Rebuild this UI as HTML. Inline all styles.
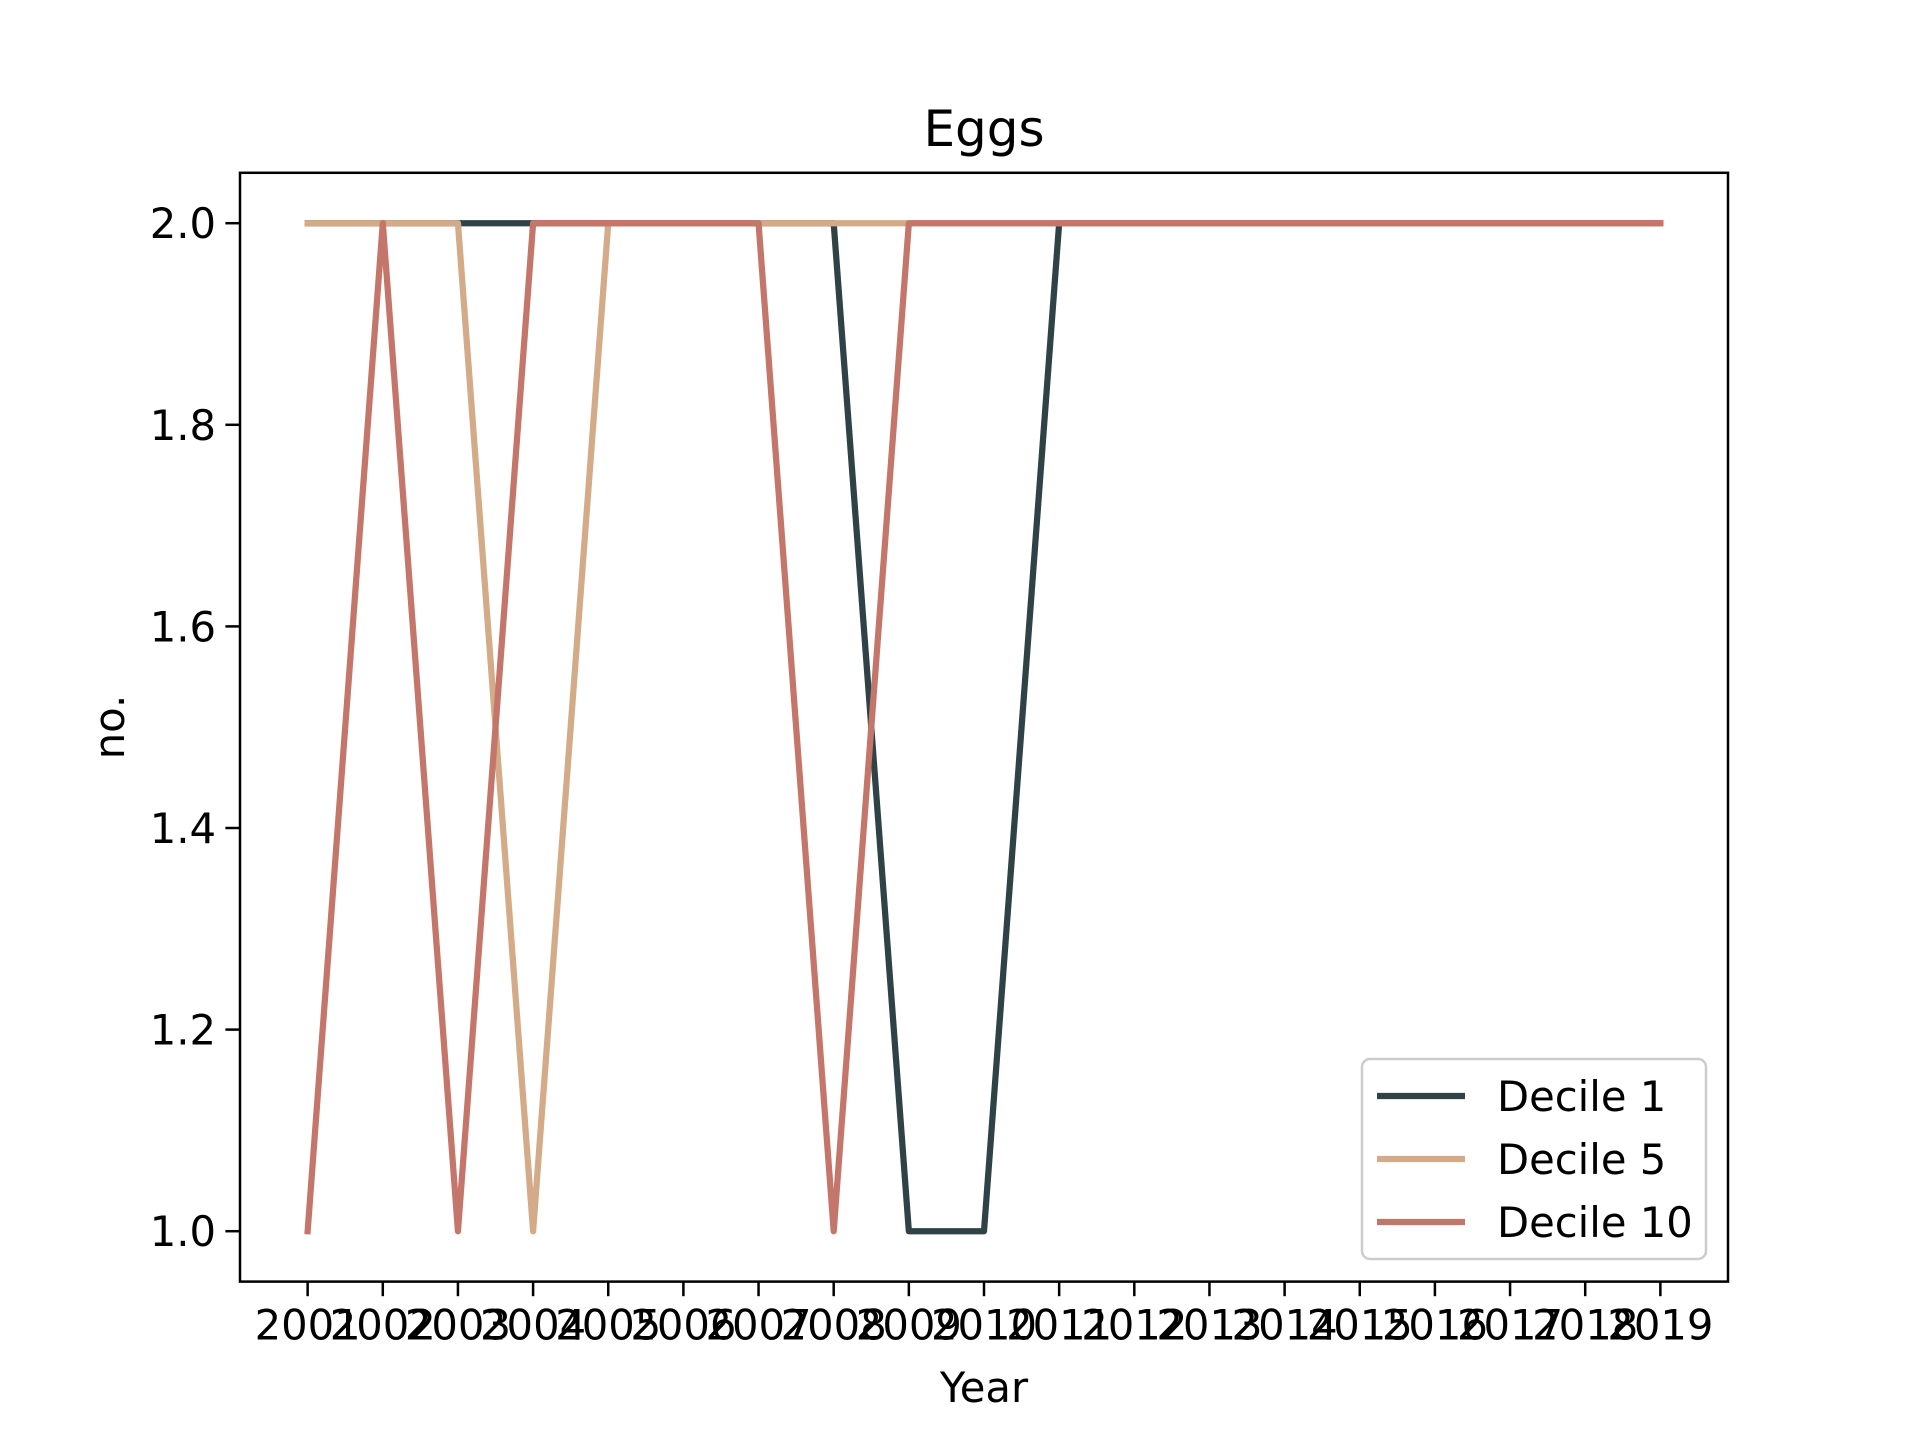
<!DOCTYPE html>
<html><head><meta charset="utf-8"><style>
html,body{margin:0;padding:0;background:#fff}
svg{display:block;font-family:"DejaVu Sans","Liberation Sans",sans-serif}
</style></head><body>
<svg id="chart" width="1920" height="1440" viewBox="0 0 1920 1440" xmlns="http://www.w3.org/2000/svg">
<rect width="1920" height="1440" fill="#fff"/>
<text x="984" y="146" font-size="50" text-anchor="middle">Eggs</text>
<g id="plot"></g>
<text x="984" y="1402" font-size="41.7" text-anchor="middle">Year</text>
<text x="124" y="727" font-size="41.7" text-anchor="middle" transform="rotate(-90 124 727)">no.</text>
</svg>
<script>
const years = [2001,2002,2003,2004,2005,2006,2007,2008,2009,2010,2011,2012,2013,2014,2015,2016,2017,2018,2019];
const decile1 = [2,2,2,2,2,2,2,2,1,1,2,2,2,2,2,2,2,2,2];
const decile5 = [2,2,2,1,2,2,2,2,2,2,2,2,2,2,2,2,2,2,2];
const decile10 = [1,2,1,2,2,2,2,1,2,2,2,2,2,2,2,2,2,2,2];
const yTicks = [1.0,1.2,1.4,1.6,1.8,2.0];
const seriesNames = ["Decile 1","Decile 5","Decile 10"];

const L=240,R=1728,T=172.8,B=1281.6;
const n=years.length;
const xmin=-0.05*(n-1), xmax=(n-1)*1.05;
function xs(i){return L+(i-xmin)/(xmax-xmin)*(R-L);}
const ymin=0.95,ymax=2.05;
function ys(v){return B-(v-ymin)/(ymax-ymin)*(B-T);}
const NS="http://www.w3.org/2000/svg";
const g=document.getElementById('plot');
function mk(t,a){const e=document.createElementNS(NS,t);for(const k in a)e.setAttribute(k,a[k]);g.appendChild(e);return e;}
const colors=["#2f4346","#d4ab88","#c5766b"];
[decile1,decile5,decile10].forEach((s,k)=>{
  const p=mk('polyline',{points:s.map((v,i)=>xs(i)+','+ys(v)).join(' '),fill:'none',stroke:colors[k],'stroke-width':6.25,'stroke-linejoin':'round','stroke-linecap':'square'});
  
  
});
const fr=mk('rect',{x:L,y:T,width:R-L,height:B-T,fill:'none',stroke:'#000','stroke-width':2.5});


years.forEach((y,i)=>{
  const x=xs(i);
  mk('line',{x1:x,y1:B,x2:x,y2:B+14.6,stroke:'#000','stroke-width':2.5});
  const t=mk('text',{x:x,y:B+58,'font-size':41.7,'text-anchor':'middle'});
  t.textContent=y;
  
  
});
yTicks.forEach(v=>{
  const y=ys(v);
  mk('line',{x1:L-14.6,y1:y,x2:L,y2:y,stroke:'#000','stroke-width':2.5});
  const t=mk('text',{x:L-24,y:y+15,'font-size':41.7,'text-anchor':'end'});
  t.textContent=v.toFixed(1);
  
  
});
const lg=mk('rect',{x:1362,y:1059,width:344,height:200,rx:8,fill:'#fff','fill-opacity':0.8,stroke:'#ccc','stroke-width':2.5});


seriesNames.forEach((nm,k)=>{
  const y=1096+k*63;
  mk('line',{x1:1377,y1:y,x2:1465,y2:y,stroke:colors[k],'stroke-width':6.25});
  const t=mk('text',{x:1497,y:y+15,'font-size':41.7});
  t.textContent=nm;
  
  
});
</script>
</body></html>
